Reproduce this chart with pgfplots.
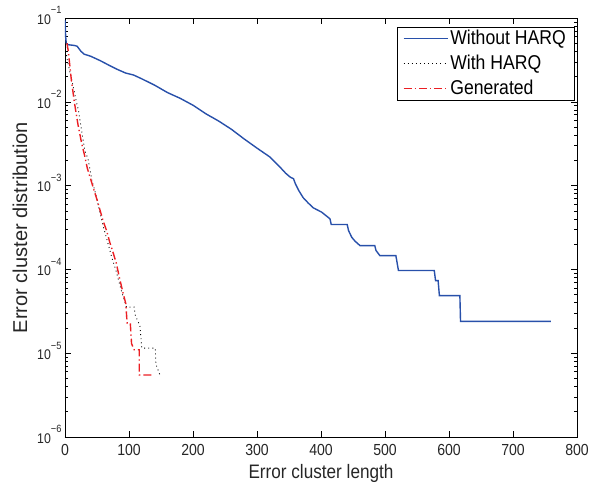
\documentclass[border=0pt]{standalone}
\usepackage{pgfplots}
\pgfplotsset{compat=1.18}
\usepackage{fontspec}
\setmainfont{Liberation Sans}[FakeStretch=0.88]
\newfontfamily\plainsans{Liberation Sans}
\definecolor{mblue}{RGB}{40,80,170}
\definecolor{mred}{RGB}{235,30,35}
\newcommand{\ex}[1]{10\smash{\raisebox{10.5pt}{\fontsize{10.5}{11}\selectfont −#1}}}
\begin{document}
\begin{tikzpicture}
\begin{axis}[
  scale only axis,
  width=512pt, height=419pt,
  xmin=0, xmax=800, ymin=1e-6, ymax=1e-1,
  ymode=log,
  xtick={0,100,...,800},
  ytick={1e-6,1e-5,1e-4,1e-3,1e-2,1e-1},
  yticklabels={\ex{6},\ex{5},\ex{4},\ex{3},\ex{2},\ex{1}},
  /pgf/number format/assume math mode=true,
  /pgf/number format/set thousands separator={},
  xticklabel style={font=\fontsize{16}{19}\selectfont, text=black!85, yshift=-3.5pt},
  yticklabel style={font=\fontsize{14}{16}\selectfont, text=black!85, anchor=east, xshift=0pt, yshift=-1.5pt},
  xlabel={Error cluster length},
  ylabel={Error cluster distribution},
  every axis x label/.style={at={(rel axis cs:0.5,0)}, anchor=base, yshift=-41pt,
    font=\fontsize{19.5}{22}\selectfont, text=black!85},
  every axis y label/.style={at={(rel axis cs:0,0.5)}, xshift=-45pt, rotate=90, anchor=center,
    font=\plainsans\fontsize{20}{24}\selectfont, text=black!85},
  axis line style={line width=0.9pt},
  tick style={line width=0.6pt, black},
  major tick length=6pt, minor tick length=3.5pt,
  legend style={at={(rel axis cs:0.994,0.979)}, anchor=north east,
    font=\fontsize{20}{23}\selectfont, draw=black,
    inner xsep=6pt, inner ysep=1.5pt, row sep=5pt},
  legend cell align=left,
  legend image code/.code={\draw[#1] (0cm,0cm) -- (1.55cm,0cm);},
]
\addplot[color=mblue, draw=mblue, line width=1.4pt] coordinates {
(0,0.095) (1,0.06) (2,0.05) (5,0.048) (15,0.047) (19,0.046) (25,0.040) (30,0.037)
(40,0.035) (55,0.031) (70,0.027) (81,0.0245) (95,0.022) (107,0.0209) (120,0.0188)
(140,0.0158) (160,0.0129) (180,0.011) (200,0.0091) (220,0.0072) (240,0.0059)
(260,0.0047) (280,0.0036) (300,0.0028) (320,0.0022) (336,0.00166) (345,0.0014)
(352,0.00126) (357,0.00121) (360,0.00105) (365,0.00088) (372,0.00072) (380,0.00062)
(388,0.000543) (401,0.000482) (414,0.000402)
(416,0.000343) (441,0.000343) (443,0.000291) (448,0.000242) (453,0.000218)
(461,0.000192) (484,0.000192) (486,0.000168) (492,0.000146) (517,0.000146)
(521,9.7e-5) (577,9.7e-5) (579,7.35e-5) (583,7.35e-5) (585,4.86e-5) (617,4.86e-5)
(618,2.4e-5) (759,2.4e-5)
};
\addlegendentry{Without HARQ}
\addplot[color=black, draw=black, line width=0.9pt, dash pattern=on 0.9pt off 3.2pt] coordinates {
(1,0.045) (3,0.033) (8,0.022) (13,0.015) (18,0.0098) (21,0.0079) (26,0.0045)
(31,0.0026) (36,0.0021) (42,0.00115) (48,0.0008) (54,0.0005) (60,0.00032)
(66,0.00022) (73,0.00014) (80,9.5e-5) (88,5.6e-5) (96,3.55e-5) (108,3.55e-5)
(110,2.8e-5) (117,2.14e-5) (120,1.15e-5) (141,1.15e-5) (142,7.4e-6) (148,5.6e-6)
};
\addlegendentry{With HARQ}
\addplot[color=mred, draw=mred, line width=1.4pt, dash pattern=on 8pt off 3pt on 1.3pt off 3pt] coordinates {
(3,0.05) (5,0.041) (10,0.018) (15,0.0095) (20,0.0055) (26,0.0032)
(30,0.0024) (35,0.0016) (40,0.0012) (45,0.0009) (50,0.00068) (55,0.0005)
(60,0.00037) (65,0.00029) (70,0.00021) (75,0.00016) (80,0.00012) (85,8e-5)
(90,5.5e-5) (95,3.9e-5) (97,2.3e-5) (102,2.3e-5) (104,1.3e-5) (108,1.1e-5)
(116,1.1e-5) (116,5.5e-6) (138,5.5e-6)
};
\addlegendentry{Generated}
\end{axis}
\pgfresetboundingbox
\useasboundingbox ([shift={(-65pt,-50pt)}]current axis.south west) rectangle ([shift={(13pt,18pt)}]current axis.north east);
\end{tikzpicture}
\end{document}
